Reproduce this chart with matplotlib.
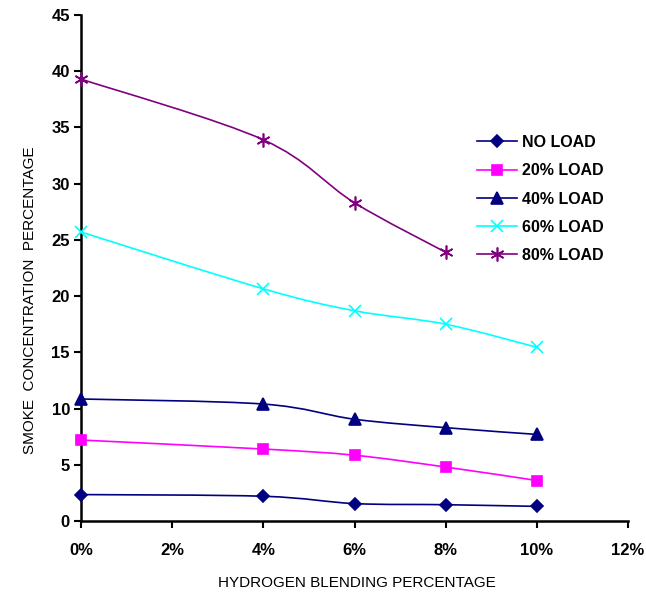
import matplotlib
matplotlib.use("Agg")
import matplotlib.pyplot as plt
import numpy as np
from matplotlib.path import Path
from matplotlib.patches import PathPatch
from matplotlib.lines import Line2D
from matplotlib.ticker import PercentFormatter, MultipleLocator

plt.rcParams['font.family'] = ['Liberation Sans', 'DejaVu Sans']

# hydrogen blending fraction (x) and smoke concentration per load
blend = [0.0, 0.04, 0.06, 0.08, 0.10]
blend_80 = [0.0, 0.04, 0.06, 0.08]
no_load = [2.35, 2.2, 1.55, 1.45, 1.3]
load_20 = [7.2, 6.4, 5.85, 4.8, 3.6]
load_40 = [10.85, 10.4, 9.05, 8.3, 7.7]
load_60 = [25.7, 20.65, 18.7, 17.5, 15.45]
load_80 = [39.3, 33.9, 28.3, 23.9]
series_names = ["NO LOAD", "20% LOAD", "40% LOAD", "60% LOAD", "80% LOAD"]

# (color, marker, markersize)
STYLES = [("#000080", "D", 6), ("#FF00FF", "s", 7), ("#000080", "^", 8),
	("#00FFFF", "x", 8), ("#800080", (6, 2, 0), 10)]

def smoothPath(xs, ys, tension=1.0 / 6):
	"""Build an excel-like smoothed bezier path through the points
		Args:
			xs, ys: the data points
			tension: weight of neighbour points for the control points
		Returns:
			matplotlib Path through all points
	"""
	pts = np.column_stack([xs, ys]).astype(float)
	n = len(pts)
	verts = [pts[0]]
	codes = [Path.MOVETO]
	for i in range(n - 1):
		p_prev = pts[max(i - 1, 0)]
		p_next = pts[min(i + 2, n - 1)]
		c1 = pts[i] + (pts[i + 1] - p_prev) * tension
		c2 = pts[i + 1] - (p_next - pts[i]) * tension
		verts += [c1, c2, pts[i + 1]]
		codes += [Path.CURVE4] * 3
	return Path(verts, codes)

figure = plt.figure(figsize=(6.46, 5.93), dpi=100)
ax = figure.add_axes([81 / 646, 72 / 593, 547 / 646, 506 / 593])

all_x = [blend, blend, blend, blend, blend_80]
all_y = [no_load, load_20, load_40, load_60, load_80]
handles = []
for xs, ys, (color, marker, msize) in zip(all_x, all_y, STYLES):
	ax.add_patch(PathPatch(smoothPath(xs, ys), facecolor="none", edgecolor=color, lw=1.2, clip_on=False, zorder=3))
	ax.plot(xs, ys, ls="none", marker=marker, color=color, markersize=msize, mew=1.2, clip_on=False, zorder=4)
	handles.append(Line2D([], [], color=color, marker=marker, markersize=msize, mew=1.2, lw=1.2))

ax.set_xlim(0, 0.12)
ax.set_ylim(0, 45)
ax.xaxis.set_major_locator(MultipleLocator(0.02))
ax.xaxis.set_major_formatter(PercentFormatter(xmax=1, decimals=0))
ax.yaxis.set_major_locator(MultipleLocator(5))
for side in ["top", "right"]:
	ax.spines[side].set_visible(False)
for side in ["left", "bottom"]:
	ax.spines[side].set_linewidth(1.8)
ax.tick_params(axis="both", direction="out", length=5, width=1.5, labelsize=12)
ax.tick_params(axis="x", pad=11)
ax.tick_params(axis="y", pad=3)
for label in ax.get_xticklabels() + ax.get_yticklabels():
	label.set_fontweight("bold")

figure.text(357 / 646, 1 - 583 / 593, "HYDROGEN BLENDING PERCENTAGE", ha="center", va="center", fontsize=11)
figure.text(30 / 646, 1 - 300 / 593, "SMOKE  CONCENTRATION  PERCENTAGE", ha="center", va="center", rotation=90, fontsize=11)

figure.legend(handles, series_names, loc="upper left", bbox_to_anchor=(469 / 646, 1 - 127 / 593),
	frameon=False, borderpad=0, handlelength=2.5, handletextpad=0.3, labelspacing=0.83,
	prop={"weight": "bold", "size": 11.5})

plt.savefig("out.png", dpi=100)
plt.close(figure)
